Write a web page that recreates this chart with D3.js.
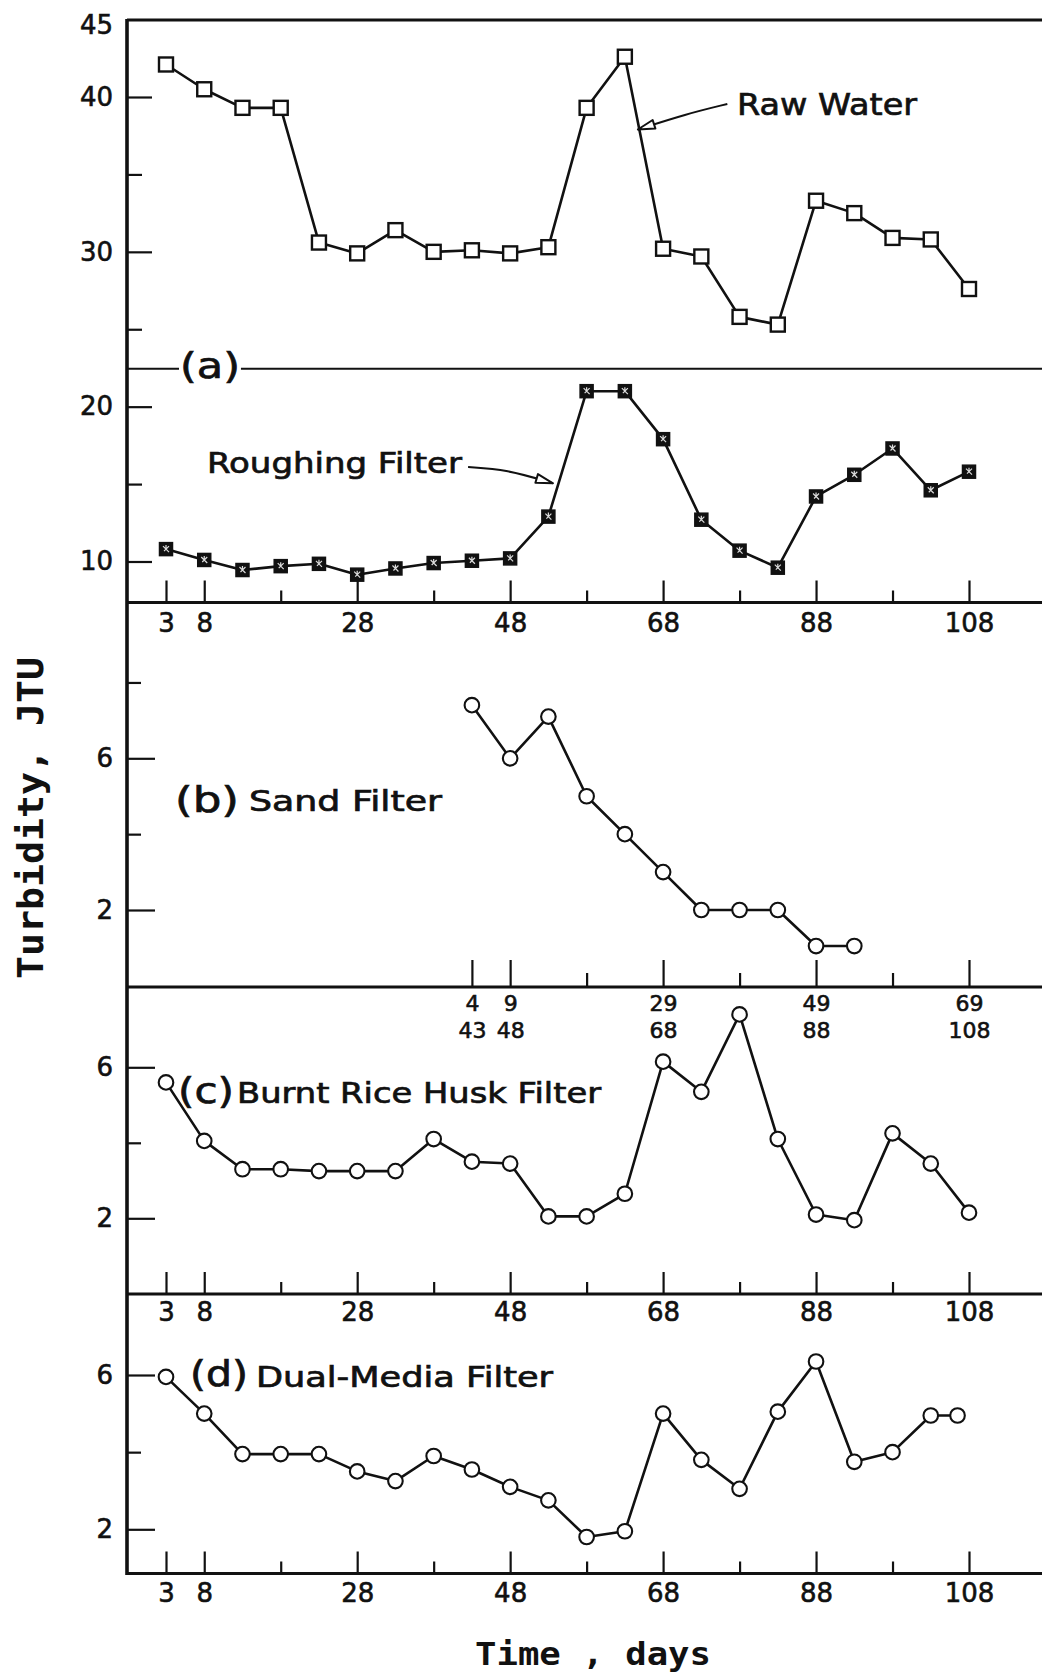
<!DOCTYPE html>
<html><head><meta charset="utf-8">
<script src="https://cdn.jsdelivr.net/npm/d3@7"></script>
<style>body{margin:0;background:#fff}</style>
</head><body>
<svg id="c" width="1042" height="1674"></svg>
<script>
// ---------- data ----------
const days = [3,8,13,18,23,28,33,38,43,48,53,58,63,68,73,78,83,88,93,98,103,108];
const daysSand = [43,48,53,58,63,68,73,78,83,88,93];
const daysDual = [3,8,13,18,23,28,33,38,43,48,53,58,63,68,73,78,83,88,93,98,103,106.5];
const rawWater = [42.1,40.5,39.3,39.3,30.6,29.9,31.4,30.0,30.1,29.9,30.3,39.3,42.6,30.2,29.7,25.8,25.3,33.3,32.5,30.9,30.8,27.6];
const roughingFilter = [10.8,10.1,9.45,9.7,9.85,9.15,9.55,9.9,10.05,10.2,12.9,21.0,21.0,17.9,12.7,10.7,9.6,14.2,15.6,17.3,14.6,15.8];
const sandFilter = [7.4,6.0,7.1,5.0,4.0,3.0,2.0,2.0,2.0,1.05,1.05];
const riceHuskFilter = [5.6,4.05,3.3,3.3,3.25,3.25,3.25,4.1,3.5,3.45,2.05,2.05,2.65,6.15,5.35,7.4,4.1,2.1,1.95,4.25,3.45,2.15];
const dualMediaFilter = [5.95,5.0,3.95,3.95,3.95,3.5,3.25,3.9,3.55,3.1,2.75,1.8,1.95,5.0,3.8,3.05,5.05,6.35,3.75,4.0,4.95,4.95];

const xMajorTicks = [3,8,28,48,68,88,108];
const xMinorTicks = [18,38,58,78,98];
const sandMajorTicks = [43,48,68,88,108];
const sandMinorTicks = [58,78,98];
const sandLabelsTop = ["4","9","29","49","69"];
const sandLabelsBottom = ["43","48","68","88","108"];
const yMajorA = [40,30,20,10];
const yMinorA = [35,25,15];
const yLabelsA = [45,40,30,20,10];
const yMajorB = [6,2];
const yMinorB = [8,4];
const yMinorCD = [4];

// ---------- layout ----------
const svg = d3.select("#c");
const AX = 127, RX = 1042;
const frame = {top:20, ab:602.5, bc:987, cd:1294, bottom:1573.5};
const x = d3.scaleLinear().domain([3,108]).range([166,969]);
const ya = d3.scaleLinear().domain([10,40]).range([561.5,97]);
const yb = d3.scaleLinear().domain([2,6]).range([910,758.3]);
const yc = d3.scaleLinear().domain([2,6]).range([1218.3,1067.3]);
const yd = d3.scaleLinear().domain([2,6]).range([1529.3,1375]);

const INK = "#111";
const SANS = "'DejaVu Sans', sans-serif";
const MONO = "'DejaVu Sans Mono', monospace";

function styleAxis(g, fs){
  g.attr("font-family", SANS).attr("font-size", fs);
  g.select(".domain").remove();
  g.selectAll("line").attr("stroke", INK).attr("stroke-width", 2.2);
  g.selectAll("text").attr("fill", INK).attr("stroke", INK).attr("stroke-width", 0.6);
}

// bottom axes (ticks point up into the panel above, labels below)
function bottomAxis(yPos, vals, len, pad, fmt, fs){
  const g = svg.append("g").attr("transform", `translate(0,${yPos})`)
    .call(d3.axisBottom(x).tickValues(vals).tickSize(-len).tickPadding(pad)
      .tickFormat(fmt));
  styleAxis(g, fs);
  return g;
}
const noLab = () => "";
[frame.ab, frame.bc, frame.cd, frame.bottom].forEach((yy,i)=>{
  if(i===1){
    bottomAxis(yy, sandMajorTicks, 27, 8, (d,j)=>sandLabelsTop[j], 22);
    bottomAxis(yy, sandMinorTicks, 14, 8, noLab, 22);
    const g = bottomAxis(yy, sandMajorTicks, 0, 35, (d,j)=>sandLabelsBottom[j], 22);
    g.selectAll("line").remove();
  } else {
    const pad = [11,0,9,10][i];
    bottomAxis(yy, xMajorTicks, 22, pad, d3.format("d"), 26);
    bottomAxis(yy, xMinorTicks, 12, pad, noLab, 26);
  }
});

// left axes (ticks point right into the panel, labels left)
function leftAxis(scale, vals, len, fmt){
  const g = svg.append("g").attr("transform", `translate(${AX},0)`)
    .call(d3.axisLeft(scale).tickValues(vals).tickSize(-len).tickPadding(14).tickFormat(fmt));
  styleAxis(g, 26);
  return g;
}
leftAxis(ya, yMajorA, 25, noLab);
leftAxis(ya, yMinorA, 15, noLab);
{
  const g = leftAxis(ya, yLabelsA, 0, d3.format("d"));
  g.selectAll("line").remove();
  g.selectAll(".tick").filter(d=>d===45).select("text").attr("dy","0.55em");
}
[yb, yc, yd].forEach((s,i)=>{
  leftAxis(s, yMajorB, 28, d3.format("d"));
  leftAxis(s, i===0 ? yMinorB : yMinorCD, 14, noLab);
});

// frame
const fr = svg.append("g").attr("stroke", INK).attr("fill","none");
[frame.top, frame.ab, frame.bc, frame.cd, frame.bottom].forEach(yy=>{
  fr.append("line").attr("x1",AX).attr("x2",RX).attr("y1",yy).attr("y2",yy).attr("stroke-width",3.2);
});
fr.append("line").attr("x1",AX).attr("x2",AX).attr("y1",frame.top-1).attr("y2",frame.bottom+1.5).attr("stroke-width",3.6);
// (a) separator line at 22.45 JTU
const ySep = ya(22.45);
fr.append("line").attr("x1",AX).attr("x2",x(4.7)).attr("y1",ySep).attr("y2",ySep).attr("stroke-width",2.2);
fr.append("line").attr("x1",x(12.8)).attr("x2",RX).attr("y1",ySep).attr("y2",ySep).attr("stroke-width",2.2);

// ---------- series ----------
function series(xs, vals, yScale){
  const pts = xs.map((d,i)=>[x(d), yScale(vals[i])]);
  svg.append("path").attr("d", d3.line()(pts)).attr("fill","none")
    .attr("stroke", INK).attr("stroke-width", 2.6).attr("stroke-linejoin","round");
  return pts;
}
const rwPts = series(days, rawWater, ya);
svg.append("g").selectAll("rect").data(rwPts).join("rect")
  .attr("x", d=>d[0]-7).attr("y", d=>d[1]-7).attr("width",14).attr("height",14)
  .attr("fill","#fff").attr("stroke",INK).attr("stroke-width",2.4);

const rfPts = series(days, roughingFilter, ya);
const rfG = svg.append("g").selectAll("g").data(rfPts).join("g")
  .attr("transform", d=>`translate(${d[0]},${d[1]})`);
rfG.append("rect").attr("x",-6.5).attr("y",-6.5).attr("width",13).attr("height",13)
  .attr("fill",INK).attr("stroke",INK).attr("stroke-width",1.5);
rfG.append("path").attr("d","M-3,-3L3,3M3,-3L-2,2M0,-4L0,1")
  .attr("stroke","#ddd").attr("stroke-width",1.2).attr("fill","none");

function circles(pts){
  svg.append("g").selectAll("circle").data(pts).join("circle")
    .attr("cx", d=>d[0]).attr("cy", d=>d[1]).attr("r",7.3)
    .attr("fill","#fff").attr("stroke",INK).attr("stroke-width",2.1);
}
circles(series(daysSand, sandFilter, yb));
circles(series(days, riceHuskFilter, yc));
circles(series(daysDual, dualMediaFilter, yd));

// ---------- annotations ----------
function arrow(pts){
  svg.append("path").attr("d", d3.line().curve(d3.curveBasis)(pts))
    .attr("fill","none").attr("stroke",INK).attr("stroke-width",2);
  const [p1,p0] = [pts[pts.length-2], pts[pts.length-1]];
  const ang = Math.atan2(p0[1]-p1[1], p0[0]-p1[0]);
  const L = 17, W = 4.5;
  const bx = p0[0]-L*Math.cos(ang), by = p0[1]-L*Math.sin(ang);
  const nx = -Math.sin(ang)*W, ny = Math.cos(ang)*W;
  svg.append("path").attr("d", `M${p0[0]},${p0[1]}L${bx+nx},${by+ny}L${bx-nx},${by-ny}Z`)
    .attr("fill","#fff").attr("stroke",INK).attr("stroke-width",2).attr("stroke-linejoin","round");
}
// Raw Water arrow (data coordinates of panel a)
arrow([[x(76.4),ya(39.55)],[x(71),ya(38.9)],[x(64.7),ya(37.9)]]);
// Roughing Filter arrow
arrow([[x(42.5),ya(16.1)],[x(47.5),ya(15.95)],[x(53.6),ya(15.05)]]);

function label(txt, xp, yp, fs, len, fam, weight){
  const t = svg.append("text").attr("x",xp).attr("y",yp).text(txt)
    .attr("font-family", fam||SANS).attr("font-size",fs).attr("fill",INK);
  if(len) t.attr("textLength",len).attr("lengthAdjust","spacingAndGlyphs");
  if(weight) t.attr("font-weight",weight);
  else t.attr("stroke",INK).attr("stroke-width",0.7);
  return t;
}
label("Raw Water", 737, 115, 31, 180);
label("Roughing Filter", 207, 473, 28, 255);
label("(a)", 180, 378, 35, 60);
label("(b)", 175, 812, 35, 64);
label("Sand Filter", 249, 811, 28, 193);
label("(c)", 178, 1103, 35, 56);
label("Burnt Rice Husk Filter", 237, 1103, 28, 364);
label("(d)", 190, 1386, 35, 58);
label("Dual-Media Filter", 256, 1387, 28, 297);

label("Time , days", 475, 1665, 32, 236, MONO, "bold");
svg.append("text").attr("transform","translate(43,818) rotate(-90)")
  .attr("text-anchor","middle").attr("font-family",MONO).attr("font-weight","bold")
  .attr("font-size",36).attr("fill",INK).attr("textLength",322).attr("lengthAdjust","spacingAndGlyphs")
  .text("Turbidity, JTU");
</script>
</body></html>
